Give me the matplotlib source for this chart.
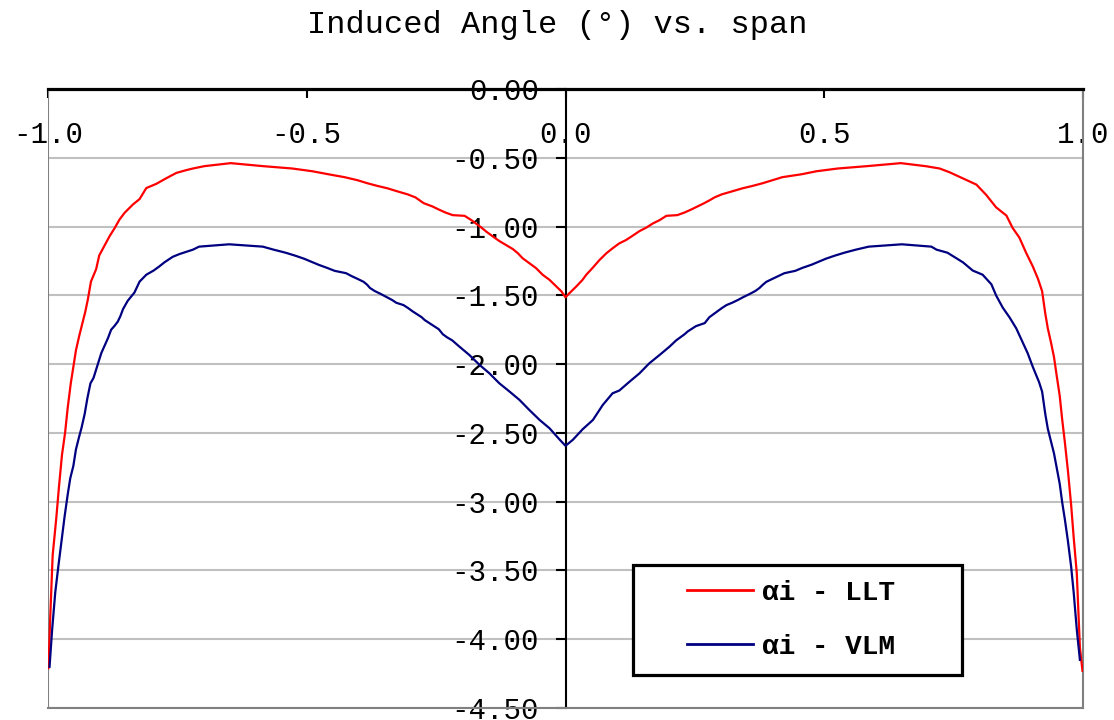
import matplotlib
matplotlib.use("Agg")
import matplotlib.pyplot as plt
from matplotlib.patches import Rectangle

plt.rcParams["font.family"] = ["Liberation Mono", "DejaVu Sans Mono"]

# Spanwise station (2y/b) and induced angle (deg) - lifting-line theory
span_llt = [
    -0.999, -0.996, -0.991, -0.984, -0.979, -0.973, -0.967, -0.962, -0.956, -0.951,
    -0.946, -0.940, -0.934, -0.928, -0.923, -0.917, -0.907, -0.901, -0.891, -0.881,
    -0.871, -0.862, -0.852, -0.836, -0.823, -0.810, -0.791, -0.772, -0.752, -0.733,
    -0.720, -0.698, -0.647, -0.584, -0.528, -0.489, -0.458, -0.427, -0.402, -0.383,
    -0.363, -0.344, -0.325, -0.305, -0.290, -0.274, -0.257, -0.245, -0.232, -0.218,
    -0.195, -0.182, -0.163, -0.153, -0.140, -0.128, -0.115, -0.102, -0.092, -0.083,
    -0.070, -0.057, -0.044, -0.031, -0.018, -0.008, 0.000, 0.008, 0.021, 0.033,
    0.040, 0.053, 0.066, 0.079, 0.091, 0.104, 0.117, 0.130, 0.143, 0.156,
    0.169, 0.182, 0.195, 0.216, 0.230, 0.243, 0.255, 0.267, 0.278, 0.288,
    0.302, 0.322, 0.342, 0.361, 0.381, 0.400, 0.419, 0.456, 0.485, 0.526,
    0.582, 0.648, 0.696, 0.723, 0.742, 0.768, 0.794, 0.813, 0.832, 0.852,
    0.864, 0.877, 0.890, 0.903, 0.913, 0.921, 0.927, 0.932, 0.938, 0.944,
    0.949, 0.955, 0.960, 0.965, 0.971, 0.977, 0.982, 0.988, 0.994, 0.999,
]
alpha_llt = [
    -4.21, -3.87, -3.39, -3.12, -2.90, -2.66, -2.50, -2.32, -2.14, -2.02,
    -1.90, -1.80, -1.71, -1.62, -1.53, -1.40, -1.31, -1.21, -1.14, -1.07,
    -1.01, -0.95, -0.90, -0.84, -0.80, -0.72, -0.69, -0.65, -0.61, -0.59,
    -0.578, -0.561, -0.539, -0.561, -0.578, -0.598, -0.620, -0.641, -0.663, -0.685,
    -0.705, -0.722, -0.744, -0.766, -0.788, -0.830, -0.854, -0.876, -0.898, -0.917,
    -0.922, -0.953, -1.006, -1.037, -1.073, -1.105, -1.134, -1.163, -1.194, -1.230,
    -1.266, -1.302, -1.351, -1.387, -1.435, -1.471, -1.514, -1.483, -1.435, -1.387,
    -1.351, -1.298, -1.242, -1.194, -1.158, -1.122, -1.098, -1.066, -1.033, -1.008,
    -0.977, -0.953, -0.922, -0.917, -0.898, -0.876, -0.854, -0.832, -0.810, -0.788,
    -0.766, -0.744, -0.722, -0.705, -0.685, -0.663, -0.641, -0.620, -0.598, -0.578,
    -0.561, -0.539, -0.561, -0.578, -0.605, -0.650, -0.695, -0.770, -0.860, -0.920,
    -1.010, -1.080, -1.190, -1.290, -1.380, -1.470, -1.630, -1.740, -1.840, -1.950,
    -2.080, -2.230, -2.410, -2.570, -2.780, -3.020, -3.260, -3.520, -4.060, -4.230,
]

# Spanwise station (2y/b) and induced angle (deg) - vortex lattice method
span_vlm = [
    -0.997, -0.992, -0.986, -0.980, -0.974, -0.968, -0.962, -0.957, -0.951, -0.946,
    -0.940, -0.935, -0.929, -0.924, -0.918, -0.912, -0.907, -0.902, -0.897, -0.891,
    -0.884, -0.878, -0.871, -0.865, -0.860, -0.855, -0.846, -0.833, -0.823, -0.810,
    -0.796, -0.785, -0.775, -0.759, -0.746, -0.720, -0.708, -0.650, -0.585, -0.564,
    -0.541, -0.522, -0.505, -0.491, -0.477, -0.461, -0.446, -0.424, -0.414, -0.402,
    -0.390, -0.383, -0.378, -0.369, -0.357, -0.346, -0.335, -0.327, -0.313, -0.304,
    -0.296, -0.287, -0.278, -0.272, -0.254, -0.245, -0.237, -0.229, -0.219, -0.205,
    -0.186, -0.166, -0.147, -0.128, -0.108, -0.089, -0.070, -0.050, -0.031, -0.012,
    0.000, 0.014, 0.033, 0.053, 0.072, 0.091, 0.104, 0.124, 0.143, 0.162,
    0.182, 0.201, 0.214, 0.222, 0.230, 0.236, 0.243, 0.252, 0.269, 0.278,
    0.286, 0.294, 0.302, 0.311, 0.322, 0.333, 0.344, 0.356, 0.367, 0.375,
    0.381, 0.388, 0.400, 0.412, 0.423, 0.444, 0.458, 0.475, 0.489, 0.503,
    0.520, 0.539, 0.561, 0.586, 0.650, 0.707, 0.717, 0.738, 0.768, 0.787,
    0.806, 0.823, 0.832, 0.845, 0.858, 0.871, 0.882, 0.893, 0.903, 0.915,
    0.921, 0.927, 0.932, 0.938, 0.944, 0.949, 0.955, 0.960, 0.965, 0.971,
    0.977, 0.982, 0.988, 0.994,
]
alpha_vlm = [
    -4.20, -3.93, -3.66, -3.47, -3.29, -3.11, -2.95, -2.83, -2.74, -2.62,
    -2.53, -2.46, -2.36, -2.25, -2.14, -2.10, -2.04, -1.98, -1.92, -1.87,
    -1.81, -1.75, -1.72, -1.69, -1.65, -1.60, -1.54, -1.48, -1.40, -1.35,
    -1.32, -1.29, -1.26, -1.22, -1.20, -1.168, -1.146, -1.129, -1.146, -1.168,
    -1.190, -1.212, -1.234, -1.256, -1.278, -1.300, -1.322, -1.339, -1.359, -1.380,
    -1.402, -1.424, -1.446, -1.468, -1.490, -1.512, -1.534, -1.554, -1.571, -1.593,
    -1.615, -1.637, -1.659, -1.680, -1.724, -1.746, -1.783, -1.805, -1.827, -1.873,
    -1.933, -2.006, -2.067, -2.139, -2.200, -2.260, -2.333, -2.406, -2.466, -2.546,
    -2.594, -2.551, -2.474, -2.406, -2.297, -2.212, -2.192, -2.127, -2.067, -1.994,
    -1.933, -1.873, -1.827, -1.805, -1.783, -1.763, -1.746, -1.724, -1.702, -1.659,
    -1.637, -1.615, -1.593, -1.571, -1.554, -1.534, -1.512, -1.490, -1.468, -1.446,
    -1.424, -1.402, -1.380, -1.359, -1.339, -1.322, -1.300, -1.278, -1.256, -1.234,
    -1.212, -1.190, -1.168, -1.146, -1.129, -1.146, -1.168, -1.190, -1.26, -1.32,
    -1.35, -1.42, -1.50, -1.59, -1.66, -1.74, -1.83, -1.92, -2.02, -2.13,
    -2.20, -2.36, -2.47, -2.56, -2.65, -2.75, -2.87, -3.01, -3.13, -3.29,
    -3.47, -3.66, -3.93, -4.15,
]

x_ticks = [-1.0, -0.5, 0.0, 0.5, 1.0]
x_tick_labels = ["-1.0", "-0.5", "0.0", "0.5", "1.0"]
y_ticks = [0.0, -0.5, -1.0, -1.5, -2.0, -2.5, -3.0, -3.5, -4.0, -4.5]
y_tick_labels = ["0.00", "-0.50", "-1.00", "-1.50", "-2.00",
                 "-2.50", "-3.00", "-3.50", "-4.00", "-4.50"]

series_labels = ["αi - LLT", "αi - VLM"]
series_colors = ["#ff0000", "#000080"]

W, H = 1114, 720
fig = plt.figure(figsize=(W / 100, H / 100), dpi=100)
ax = fig.add_axes([48 / W, 12 / H, 1035 / W, 619 / H])

ax.plot(span_llt, alpha_llt, color=series_colors[0], lw=1.6,
        label=series_labels[0], zorder=3)
ax.plot(span_vlm, alpha_vlm, color=series_colors[1], lw=1.6,
        label=series_labels[1], zorder=3)

ax.set_xlim(-1, 1)
ax.set_ylim(-4.5, 0)

# horizontal gridlines
ax.set_axisbelow(True)
ax.yaxis.grid(True, color="#c0c0c0", lw=1.5)
ax.xaxis.grid(False)

# frame: black category axis along the top, value axis crossing at x = 0
ax.spines["top"].set_color("black")
ax.spines["top"].set_linewidth(2.3)
ax.spines["bottom"].set_color("#808080")
ax.spines["bottom"].set_linewidth(1.5)
ax.spines["right"].set_color("#808080")
ax.spines["right"].set_linewidth(1.5)
ax.spines["left"].set_position(("data", 0))
ax.spines["left"].set_color("black")
ax.spines["left"].set_linewidth(1.5)
ax.axvline(-1, color="#808080", lw=1.5, zorder=2.5)

ax.set_yticks(y_ticks)
ax.set_yticklabels(y_tick_labels)
ax.tick_params(axis="y", direction="out", length=7, width=1.5,
               color="black", pad=12, labelsize=21)

ax.xaxis.set_ticks_position("top")
ax.set_xticks(x_ticks)
ax.set_xticklabels(x_tick_labels)
ax.tick_params(axis="x", direction="in", length=6.5, width=1.5,
               color="black", pad=-43, labelsize=21)

fig.text(0.5, 1 - 25 / H, "Induced Angle (°) vs. span",
         ha="center", va="center", fontsize=23)

# legend box
box = Rectangle((0.5652, 0.0533), 0.3179, 0.1777, transform=ax.transAxes,
                facecolor="white", edgecolor="black", lw=2.3, zorder=4)
ax.add_patch(box)
leg = ax.legend(loc="upper left", bbox_to_anchor=(0.6174, 0.2065),
                frameon=False, borderpad=0, borderaxespad=0,
                handlelength=2.37, handletextpad=0.32, labelspacing=1.0,
                prop={"size": 20, "weight": "bold"})
leg.set_zorder(6)
for line in leg.get_lines():
    line.set_linewidth(2.0)

fig.savefig("out.png", dpi=100, facecolor="white")
